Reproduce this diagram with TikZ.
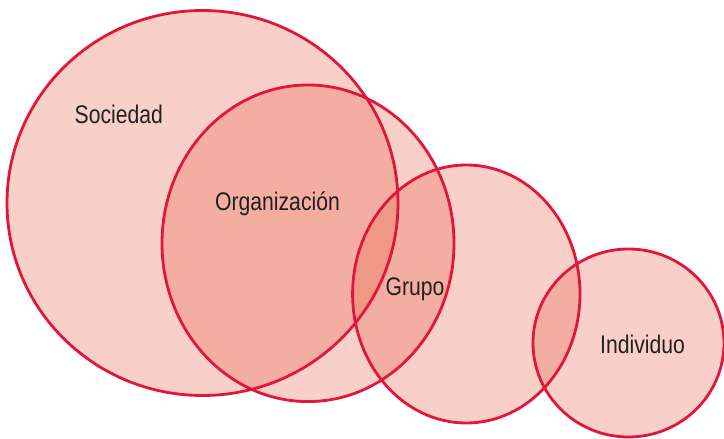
\documentclass[tikz,border=0pt]{standalone}
\usepackage{fontspec}
\newfontfamily\lblfont{Liberation Sans}[FakeStretch=0.83]
\definecolor{ringred}{RGB}{226,22,58}
\definecolor{setfill}{RGB}{232,98,72}
\definecolor{labelink}{RGB}{35,31,32}
\begin{document}
\begin{tikzpicture}[x=1pt,y=-1pt,
  setarea/.style={fill=setfill,fill opacity=0.3,draw=none},
  setring/.style={draw=ringred,line width=2.8pt},
  setlabel/.style={font=\lblfont\fontsize{25.5}{30}\selectfont,text=labelink,anchor=base,inner sep=0pt}]
\useasboundingbox (0,0) rectangle (724,439);
% translucent fills, overlaps darken
\fill[setarea] (202.5,203) ellipse [x radius=195.5pt, y radius=192.5pt];
\fill[setarea] (308,243.3) ellipse [x radius=146pt, y radius=158.3pt];
\fill[setarea] (466.3,294) ellipse [x radius=113.7pt, y radius=129pt];
\fill[setarea] (628.5,343) ellipse [x radius=95.5pt, y radius=94pt];
% outlines on top
\draw[setring] (202.5,203) ellipse [x radius=195.5pt, y radius=192.5pt];
\draw[setring] (308,243.3) ellipse [x radius=146pt, y radius=158.3pt];
\draw[setring] (466.3,294) ellipse [x radius=113.7pt, y radius=129pt];
\draw[setring] (628.5,343) ellipse [x radius=95.5pt, y radius=94pt];
% labels
\node[setlabel] (sociedad) at (118.8,123.3) {Sociedad};
\node[setlabel] (organizacion) at (277.5,210.5) {Organización};
\node[setlabel] (grupo) at (415,295.5) {Grupo};
\node[setlabel] (individuo) at (642.5,353.3) {Individuo};
\end{tikzpicture}
\end{document}
